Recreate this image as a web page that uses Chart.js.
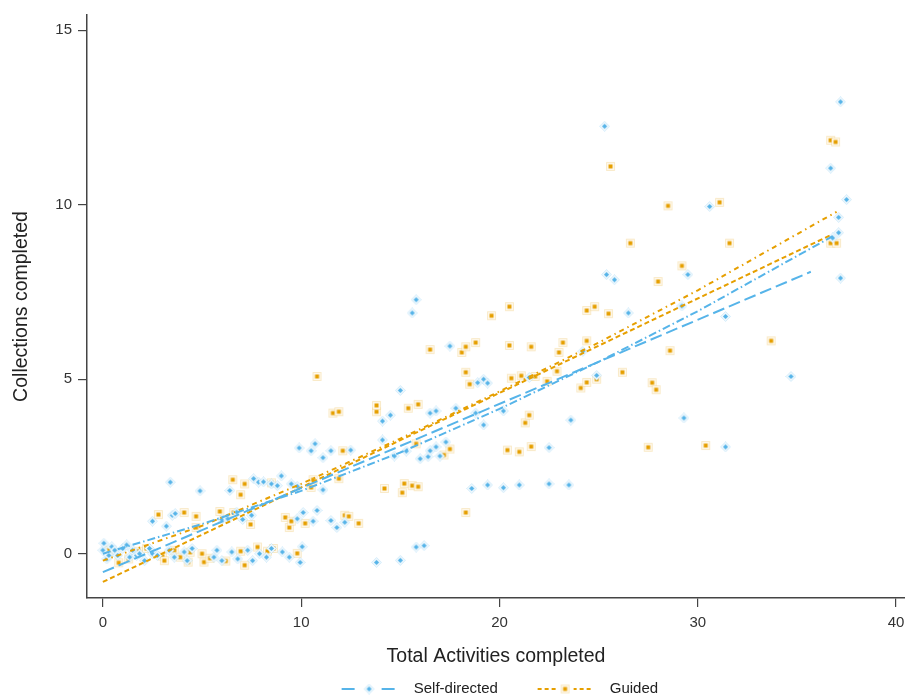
<!DOCTYPE html>
<html>
<head>
<meta charset="utf-8">
<script src="https://cdn.jsdelivr.net/npm/chart.js@4.4.1/dist/chart.umd.min.js"></script>
<style>
  html, body { margin: 0; padding: 0; background: #fff; }
  #wrap { width: 905px; height: 700px; }
</style>
</head>
<body>
<div id="wrap"><canvas id="chart" width="905" height="700"></canvas></div>
<script>
// Self-directed scatter
const selfX = [0.0, 0.05, 0.2, 0.3, 0.45, 0.6, 0.75, 1.0, 1.2, 1.35, 1.5, 1.7, 1.85, 2.1, 2.35, 2.5, 2.75, 3.35, 3.6, 4.1, 4.25, 4.5, 5.6, 5.75, 6.0, 6.5, 6.8, 7.3, 7.55, 7.9, 8.25, 8.5, 9.05, 9.4, 9.95, 10.05, 13.8, 15.0, 15.8, 16.2,
  2.5, 3.2, 3.5, 3.65, 6.0, 6.3, 6.75, 7.05, 7.5, 9.8, 10.1, 10.6, 10.8, 11.5, 11.8, 12.2,
  3.4, 4.9, 6.4, 7.6, 7.85, 8.1, 8.5, 8.8, 9.0, 9.5, 9.8, 11.1, 18.6, 19.4, 20.2, 21.0, 22.5, 23.5,
  9.9, 10.5, 10.7, 11.1, 11.5, 12.5, 14.1, 14.7, 15.3, 16.0, 16.4, 16.5, 16.8, 17.0, 17.3, 22.5, 31.4,
  14.1, 14.5, 15.0, 16.5, 16.8, 17.8, 18.8, 19.2, 20.2, 23.6, 29.3,
  18.9, 19.2, 19.4, 21.5, 24.9, 34.7,
  15.6, 15.8, 17.5, 24.2, 26.5, 29.2, 31.4,
  25.4, 25.8, 29.5, 30.6, 25.3, 36.7, 37.2, 37.5, 37.1, 37.1, 36.8, 37.2];
const selfY = [0.10, 0.30, -0.15, -0.05, 0.20, 0.10, -0.05, 0.15, 0.25, -0.10, 0.10, -0.05, 0.00, -0.20, 0.15, 0.00, -0.05, 0.10, -0.10, 0.05, -0.20, 0.15, -0.10, 0.10, -0.20, 0.05, -0.15, 0.10, -0.20, 0.00, -0.10, 0.15, 0.05, -0.10, -0.25, 0.20, -0.25, -0.19, 0.19, 0.23,
  0.93, 0.79, 1.10, 1.15, 0.98, 1.00, 1.19, 0.98, 1.10, 1.00, 1.18, 0.93, 1.24, 0.95, 0.75, 0.90,
  2.05, 1.80, 1.81, 2.15, 2.05, 2.06, 2.00, 1.95, 2.23, 2.00, 1.93, 1.83, 1.87, 1.97, 1.89, 1.97, 2.00, 1.97,
  3.03, 2.95, 3.15, 2.75, 2.95, 2.97, 3.26, 2.80, 2.94, 2.72, 2.78, 2.95, 3.06, 2.80, 3.20, 3.04, 3.06,
  3.80, 3.97, 4.68, 4.03, 4.09, 4.17, 4.03, 3.69, 4.09, 3.83, 3.89,
  4.90, 5.00, 4.89, 5.05, 5.11, 5.08,
  6.90, 7.28, 5.95, 5.80, 6.90, 7.10, 6.80,
  8.00, 7.85, 8.00, 9.95, 12.25, 11.05, 12.95, 10.15, 9.64, 9.20, 9.05, 7.90];

// Guided scatter
const guidedX = [0.3, 0.8, 1.3, 1.8, 2.2, 3.0, 3.1, 3.6, 3.9, 4.3, 4.4, 5.0, 5.1, 5.4, 6.2, 6.95, 7.15, 7.8, 8.3, 8.6, 9.8,
  2.8, 4.1, 4.7, 4.7, 5.9, 6.6, 7.45, 9.2, 9.4, 9.5, 10.2, 12.2, 12.4, 12.9, 18.3,
  6.55, 6.95, 7.15, 8.5, 10.5, 10.6, 11.9, 14.2, 15.1, 15.2, 15.6, 15.9,
  12.1, 15.8, 17.2, 17.5, 20.4, 21.0, 21.6, 27.5, 30.4,
  11.6, 11.9, 13.8, 13.8, 15.4, 15.9, 21.3, 21.5,
  10.8, 18.3, 18.5, 20.6, 21.1, 21.8, 22.4, 22.9, 24.1, 24.4, 24.9, 26.2, 27.7, 27.9,
  16.5, 18.1, 18.3, 18.8, 20.5, 21.6, 23.0, 23.2, 24.4, 28.6, 33.7,
  19.6, 20.5, 24.4, 24.8, 25.5,
  28.0, 29.2, 26.6, 31.6, 36.7, 37.0, 28.5, 31.1, 25.6, 36.7, 36.95];
const guidedY = [0.10, -0.26, -0.15, 0.07, 0.15, -0.07, -0.20, 0.10, -0.10, -0.24, 0.04, 0.00, -0.24, -0.13, -0.21, 0.07, -0.33, 0.19, 0.07, 0.15, 0.01,
  1.12, 1.18, 1.07, 0.75, 1.21, 1.18, 0.84, 1.04, 0.75, 0.93, 0.87, 1.10, 1.07, 0.87, 1.18,
  2.12, 1.69, 2.00, 2.03, 1.90, 2.12, 2.15, 1.87, 1.75, 2.01, 1.95, 1.92,
  2.95, 3.15, 2.83, 3.00, 2.97, 2.92, 3.07, 3.05, 3.10,
  4.03, 4.07, 4.07, 4.25, 4.17, 4.28, 3.75, 3.97,
  5.08, 5.20, 4.86, 5.03, 5.10, 5.08, 4.94, 5.23, 4.75, 4.91, 5.00, 5.20, 4.90, 4.70,
  5.85, 5.77, 5.93, 6.05, 5.97, 5.93, 5.77, 6.05, 6.10, 5.82, 6.10,
  6.82, 7.08, 6.97, 7.08, 6.88,
  7.80, 8.25, 8.90, 8.90, 8.90, 8.90, 9.97, 10.07, 11.10, 11.85, 11.80];

// fitted lines
const selfFitX = [0, 35.7];
const selfFitY = [-0.53, 8.08];
const selfCurveX = [0, 5, 10, 15, 20, 25, 30, 36.8];
const selfCurveY = [0.0, 0.85, 1.8, 2.9, 4.15, 5.5, 6.95, 9.1];
const guidedFitX = [0, 36.7];
const guidedFitY = [-0.81, 9.13];
const guidedCurveX = [0, 5, 10, 15, 20, 25, 30, 37];
const guidedCurveY = [-0.2, 0.8, 2.0, 3.3, 4.65, 6.05, 7.55, 9.8];

const xTicks = [0, 10, 20, 30, 40];
const yTicks = [0, 5, 10, 15];

const BLUE = '#56b4e9';
const ORANGE = '#e69f00';
const FONT = "'Liberation Sans', Arial, sans-serif";

function zip(xs, ys) {
  return xs.map((x, i) => ({ x: x, y: ys[i] }));
}

// marker images: solid core with a pale halo
function markerImage(shape) {
  const c = document.createElement('canvas');
  c.width = 11; c.height = 11;
  const g = c.getContext('2d');
  if (shape === 'diamond') {
    g.fillStyle = '#edf7fd';
    g.strokeStyle = 'rgba(86,180,233,0.2)';
    diamond(g, 5.5, 5.5, 5);
    g.fill(); g.stroke();
    g.fillStyle = BLUE;
    diamond(g, 5.5, 5.5, 2.6);
    g.fill();
  } else {
    g.fillStyle = '#fef8ec';
    g.strokeStyle = 'rgba(230,159,0,0.18)';
    g.fillRect(1.5, 1.5, 8, 8);
    g.strokeRect(1.5, 1.5, 8, 8);
    g.fillStyle = ORANGE;
    g.fillRect(3.5, 3.5, 4, 4);
  }
  return c;
}

function diamond(g, x, y, r) {
  g.beginPath();
  g.moveTo(x, y - r); g.lineTo(x + r, y); g.lineTo(x, y + r); g.lineTo(x - r, y);
  g.closePath();
}

const selfMarker = markerImage('diamond');
const guidedMarker = markerImage('square');

// legend geometry
const legendFont = 15;
const legendPad = 0;
const measure = document.createElement('canvas').getContext('2d');
measure.font = legendFont + 'px ' + FONT;
const t1 = measure.measureText('Self-directed').width;
const legendBox = Math.max(60, 196 - t1 - legendFont / 2 - legendPad);

function legendImage(dash, marker) {
  const w = Math.round(legendBox - 17);
  const c = document.createElement('canvas');
  c.width = w; c.height = 12;
  const g = c.getContext('2d');
  const x0 = w - 56;
  g.strokeStyle = marker === selfMarker ? BLUE : ORANGE;
  g.lineWidth = 2;
  g.setLineDash(dash);
  g.beginPath();
  g.moveTo(x0, 6); g.lineTo(x0 + 56, 6);
  g.stroke();
  g.clearRect(x0 + 19, 0, 17, 12);
  g.drawImage(marker, x0 + 22, 0.5);
  return c;
}

const selfLegend = legendImage([13, 7], selfMarker);
const guidedLegend = legendImage([4, 3], guidedMarker);

const lineBase = {
  showLine: true,
  pointRadius: 0,
  pointHoverRadius: 0,
  borderWidth: 2,
  fill: false,
  order: 0
};

new Chart(document.getElementById('chart'), {
  type: 'scatter',
  data: {
    datasets: [
      {
        label: 'Self-directed',
        data: zip(selfX, selfY),
        pointStyle: selfMarker,
        pointRadius: 4,
        order: 1
      },
      {
        label: 'Guided',
        data: zip(guidedX, guidedY),
        pointStyle: guidedMarker,
        pointRadius: 4,
        order: 1
      },
      Object.assign({}, lineBase, {
        label: 'Self-directed fit',
        data: zip(selfFitX, selfFitY),
        borderColor: BLUE,
        borderDash: [12, 5]
      }),
      Object.assign({}, lineBase, {
        label: 'Self-directed smooth',
        data: zip(selfCurveX, selfCurveY),
        borderColor: BLUE,
        borderDash: [8, 3, 1.5, 3]
      }),
      Object.assign({}, lineBase, {
        label: 'Guided fit',
        data: zip(guidedFitX, guidedFitY),
        borderColor: ORANGE,
        borderDash: [5, 3]
      }),
      Object.assign({}, lineBase, {
        label: 'Guided smooth',
        data: zip(guidedCurveX, guidedCurveY),
        borderColor: ORANGE,
        borderDash: [5, 4, 1.5, 4]
      })
    ]
  },
  options: {
    responsive: false,
    animation: false,
    layout: {
      autoPadding: false,
      // left padding moves the full-width legend so it centres under the plot
      padding: { top: 12, right: 0, left: 55, bottom: -6.5 }
    },
    plugins: {
      tooltip: { enabled: false },
      legend: {
        position: 'bottom',
        labels: {
          usePointStyle: true,
          pointStyleWidth: legendBox,
          padding: legendPad,
          color: '#222',
          font: { family: FONT, size: legendFont },
          generateLabels: () => [
            { text: 'Self-directed', pointStyle: selfLegend, fillStyle: 'rgba(0,0,0,0)', strokeStyle: 'rgba(0,0,0,0)', lineWidth: 0, fontColor: '#222', datasetIndex: 0, hidden: false },
            { text: 'Guided', pointStyle: guidedLegend, fillStyle: 'rgba(0,0,0,0)', strokeStyle: 'rgba(0,0,0,0)', lineWidth: 0, fontColor: '#222', datasetIndex: 1, hidden: false }
          ]
        }
      }
    },
    scales: {
      x: {
        type: 'linear',
        min: -0.8,
        max: 40.45,
        afterFit: (scale) => { scale.height = 83.5; scale.paddingRight = 0; },
        afterBuildTicks: (scale) => { scale.ticks = xTicks.map(v => ({ value: v })); },
        grid: { drawOnChartArea: false, drawTicks: true, tickLength: 9, color: '#444', lineWidth: 1.2 },
        border: { display: true, color: '#444', width: 1.5 },
        ticks: { color: '#333', font: { family: FONT, size: 15 }, padding: 7, maxRotation: 0 },
        title: { display: true, text: 'Total Activities completed', color: '#222', font: { family: FONT, size: 19.5 }, padding: { top: 0, bottom: 12.8 } }
      },
      y: {
        type: 'linear',
        min: -1.27,
        max: 15.44,
        afterFit: (scale) => { scale.width = 32; },
        afterBuildTicks: (scale) => { scale.ticks = yTicks.map(v => ({ value: v })); },
        grid: { drawOnChartArea: false, drawTicks: true, tickLength: 9, color: '#444', lineWidth: 1.2 },
        border: { display: true, color: '#444', width: 1.5 },
        ticks: { color: '#333', font: { family: FONT, size: 15 }, padding: 6 },
        title: { display: true, text: 'Collections completed', color: '#222', font: { family: FONT, size: 19.5 }, padding: { top: -44.7, bottom: 0 } }
      }
    }
  }
});
</script>
</body>
</html>
